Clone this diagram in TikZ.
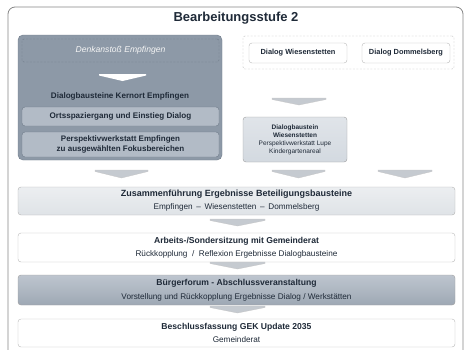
\documentclass[tikz,border=0pt]{standalone}
\usepackage{fontspec}
\setmainfont{Liberation Sans}
\usetikzlibrary{positioning}

\definecolor{framegray}{HTML}{858585}
\definecolor{darkblue}{HTML}{8D99A7}
\definecolor{darkedge}{HTML}{6E7A88}
\definecolor{midblue}{HTML}{B2BBC6}
\definecolor{lightblue}{HTML}{D3D9E0}
\definecolor{palegray}{HTML}{DFE3E7}
\definecolor{chevgray}{HTML}{C5CAD0}
\definecolor{inkblue}{HTML}{1F2A38}

\newcommand{\chevron}[5][chev]{%
  \fill[#1] (#2,#4) -- (#3,#4) -- (#3,#4+1.5) -- ({(#2+#3)/2},#5) -- (#2,#4+1.5) -- cycle;}

\begin{document}
\begin{tikzpicture}[
    x=1pt, y=-1pt,
    box/.style={draw=#1, rounded corners=3pt, align=center, inner sep=1pt,
        text=inkblue, font=\fontsize{8.2}{13}\selectfont},
    box/.default=gray!70,
    innerbox/.style={box=darkedge, fill=midblue},
    dashbox/.style={draw=#1, dashed, dash pattern=on 2pt off 1.5pt, rounded corners=2pt},
    chev/.style={fill=chevgray, draw=gray!45, line width=0.3pt},
    whitechev/.style={fill=white}
]
\useasboundingbox (0,0) rectangle (465,349);

% Outer frame, open at the bottom
\draw[framegray, line width=0.8pt, rounded corners=7pt] (8,352) -- (8,7) -- (463,7) -- (463,352);
\node[font=\fontsize{13}{15}\selectfont\bfseries, text=inkblue] (title) at (236,18) {Bearbeitungsstufe 2};

% Kernort Empfingen
\node[box=darkedge, fill=darkblue, rounded corners=5pt, minimum width=204pt, minimum height=125pt] (empf) at (120,97.5) {};
\node[dashbox=darkedge, minimum width=197pt, minimum height=23pt, font=\fontsize{8.6}{10}\selectfont\itshape, text=white!92!gray] (denk) at (120.5,50.5) {Denkanstoß Empfingen};
\chevron[whitechev]{99}{146}{74}{81}
\node[font=\fontsize{8.1}{10}\selectfont\bfseries, text=inkblue] (empf_lbl) at (120,96) {Dialogbausteine Kernort Empfingen};
\node[innerbox, minimum width=197pt, minimum height=19pt, font=\fontsize{8.1}{10}\selectfont\bfseries] (orts) at (120.5,116.5) {Ortsspaziergang und Einstieg Dialog};
\node[innerbox, minimum width=197pt, minimum height=25pt, font=\fontsize{8}{9.5}\selectfont\bfseries] (persp) at (120.5,144.5) {Perspektivwerkstatt Empfingen\\zu ausgewählten Fokusbereichen};

% Wiesenstetten / Dommelsberg
\node[dashbox=gray!55, minimum width=211pt, minimum height=33pt] (ortsteile) at (348.5,52.5) {};
\node[box=gray!55, fill=white, minimum width=98pt, minimum height=20pt, font=\fontsize{7.4}{9}\selectfont\bfseries] (wies) at (298,53) {Dialog Wiesenstetten};
\node[box=gray!55, fill=white, minimum width=88pt, minimum height=20pt, font=\fontsize{7.4}{9}\selectfont\bfseries] (domm) at (406,53) {Dialog Dommelsberg};
\chevron{272}{326}{98}{105}
\node[box=gray!75, top color=lightblue!70, bottom color=lightblue, minimum width=104pt, minimum height=45pt, font=\fontsize{6.5}{8}\selectfont] (wies_bs) at (295,139.5) {\textbf{Dialogbaustein}\\\textbf{Wiesenstetten}\\Perspektivwerkstatt Lupe\\Kindergartenareal};

% Zusammenfuehrung
\chevron{95}{148}{170}{178}
\chevron{272}{325}{170}{178}
\chevron{378}{432}{170}{178}
\node[box=gray!60, top color=palegray!60, bottom color=palegray, minimum width=437pt, minimum height=28pt] (zus) at (236.5,201) {\fontsize{9}{13}\selectfont\textbf{Zusammenführung Ergebnisse Beteiligungsbausteine}\\Empfingen \,--\, Wiesenstetten \,--\, Dommelsberg};
\chevron{210}{265}{219}{226}
\node[box=gray!55, fill=white, minimum width=437pt, minimum height=29pt] (arb) at (236.5,247.5) {\fontsize{8.6}{13}\selectfont\textbf{Arbeits-/Sondersitzung mit Gemeinderat}\\Rückkopplung\; /\; Reflexion Ergebnisse Dialogbausteine};
\chevron{210}{265}{262}{269}
\node[box=gray!75, top color=midblue!85, bottom color=darkblue!85, minimum width=437pt, minimum height=30pt, font=\fontsize{8.2}{14}\selectfont] (buerger) at (236.5,290) {\fontsize{8.6}{14}\selectfont\textbf{Bürgerforum - Abschlussveranstaltung}\\Vorstellung und Rückkopplung Ergebnisse Dialog / Werkstätten};
\chevron{210}{265}{306}{313}
\node[box=gray!55, fill=white, minimum width=437pt, minimum height=28pt] (beschl) at (236.5,333) {\fontsize{8.6}{13}\selectfont\textbf{Beschlussfassung GEK Update 2035}\\Gemeinderat};

\end{tikzpicture}
\end{document}
